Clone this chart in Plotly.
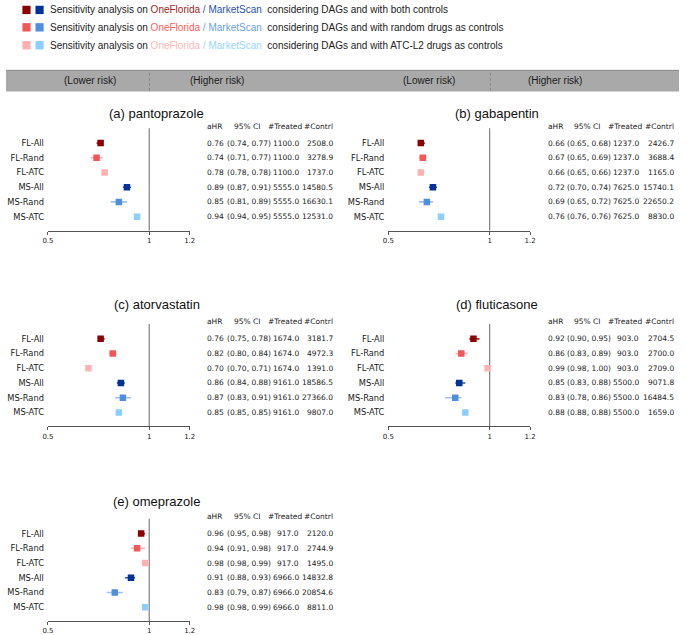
import plotly.graph_objects as go

# ---------------- data ----------------
row_labels = ["FL-All", "FL-Rand", "FL-ATC", "MS-All", "MS-Rand", "MS-ATC"]
panel_titles = ["(a) pantoprazole", "(b) gabapentin", "(c) atorvastatin",
                "(d) fluticasone", "(e) omeprazole"]

pantoprazole_ahr = [0.76, 0.74, 0.78, 0.89, 0.85, 0.94]
pantoprazole_lo = [0.74, 0.71, 0.78, 0.87, 0.81, 0.94]
pantoprazole_hi = [0.77, 0.77, 0.78, 0.91, 0.89, 0.95]
pantoprazole_treated = [1100.0, 1100.0, 1100.0, 5555.0, 5555.0, 5555.0]
pantoprazole_contrl = [2508.0, 3278.9, 1737.0, 14580.5, 16630.1, 12531.0]

gabapentin_ahr = [0.66, 0.67, 0.66, 0.72, 0.69, 0.76]
gabapentin_lo = [0.65, 0.65, 0.65, 0.70, 0.65, 0.76]
gabapentin_hi = [0.68, 0.69, 0.66, 0.74, 0.72, 0.76]
gabapentin_treated = [1237.0, 1237.0, 1237.0, 7625.0, 7625.0, 7625.0]
gabapentin_contrl = [2426.7, 3688.4, 1165.0, 15740.1, 22650.2, 8830.0]

atorvastatin_ahr = [0.76, 0.82, 0.70, 0.86, 0.87, 0.85]
atorvastatin_lo = [0.75, 0.80, 0.70, 0.84, 0.83, 0.85]
atorvastatin_hi = [0.78, 0.84, 0.71, 0.88, 0.91, 0.85]
atorvastatin_treated = [1674.0, 1674.0, 1674.0, 9161.0, 9161.0, 9161.0]
atorvastatin_contrl = [3181.7, 4972.3, 1391.0, 18586.5, 27366.0, 9807.0]

fluticasone_ahr = [0.92, 0.86, 0.99, 0.85, 0.83, 0.88]
fluticasone_lo = [0.90, 0.83, 0.98, 0.83, 0.78, 0.88]
fluticasone_hi = [0.95, 0.89, 1.00, 0.88, 0.86, 0.88]
fluticasone_treated = [903.0, 903.0, 903.0, 5500.0, 5500.0, 5500.0]
fluticasone_contrl = [2704.5, 2700.0, 2709.0, 9071.8, 16484.5, 1659.0]

omeprazole_ahr = [0.96, 0.94, 0.98, 0.91, 0.83, 0.98]
omeprazole_lo = [0.95, 0.91, 0.98, 0.88, 0.79, 0.98]
omeprazole_hi = [0.98, 0.98, 0.99, 0.93, 0.87, 0.99]
omeprazole_treated = [917.0, 917.0, 917.0, 6966.0, 6966.0, 6966.0]
omeprazole_contrl = [2120.0, 2744.9, 1495.0, 14832.8, 20854.6, 8811.0]

table_headers = ["aHR", "95% CI", "#Treated", "#Contrl"]
x_ticks = [0.5, 1, 1.2]
x_tick_labels = ["0.5", "1", "1.2"]

legend_tails = ["considering DAGs and with both controls",
                "considering DAGs and with random drugs as controls",
                "considering DAGs and with ATC-L2 drugs as controls"]
risk_labels = ["(Lower risk)", "(Higher risk)"]

# ---------------- styles ----------------
marker_colors = ["#8b0000", "#f25757", "#ffb0b0", "#003399", "#4f8fdc", "#8ccfff"]
err_colors = ["rgba(139,0,0,0.85)", "rgba(242,87,87,0.45)", "rgba(255,176,176,0.5)",
              "rgba(0,51,153,0.85)", "rgba(79,143,220,0.55)", "rgba(140,207,255,0.5)"]
fl_text_colors = ["#a51c1c", "#ff5a5a", "#ffb6b6"]
ms_text_colors = ["#2a52b0", "#6a9fe0", "#99d4ff"]

W, H = 685, 635


def fx(x):
    return x / W


def fy(y):
    return 1 - y / H


panels = [
    (pantoprazole_ahr, pantoprazole_lo, pantoprazole_hi, pantoprazole_treated, pantoprazole_contrl),
    (gabapentin_ahr, gabapentin_lo, gabapentin_hi, gabapentin_treated, gabapentin_contrl),
    (atorvastatin_ahr, atorvastatin_lo, atorvastatin_hi, atorvastatin_treated, atorvastatin_contrl),
    (fluticasone_ahr, fluticasone_lo, fluticasone_hi, fluticasone_treated, fluticasone_contrl),
    (omeprazole_ahr, omeprazole_lo, omeprazole_hi, omeprazole_treated, omeprazole_contrl),
]
panel_col = [0, 1, 0, 1, 0]
panel_first = [144, 144, 341, 341, 537]
panel_title_y = [114, 114, 306, 306, 505]
col_off = [0, 346.5]
ROW = 14.8
AX_X0, AX_X1 = 42.7, 187.0

fig = go.Figure()
annotations = []
shapes = []
layout_axes = {}

for k, (ahr, lo, hi, tr, ct) in enumerate(panels):
    n = k + 1
    xs = "x" if n == 1 else f"x{n}"
    ys = "y" if n == 1 else f"y{n}"
    xkey = "xaxis" if n == 1 else f"xaxis{n}"
    ykey = "yaxis" if n == 1 else f"yaxis{n}"
    off = col_off[panel_col[k]]
    first = panel_first[k]
    bottom = first + 88
    top = first - 15

    for i, lab in enumerate(row_labels):
        fig.add_trace(go.Scatter(
            x=[ahr[i]], y=[lab], xaxis=xs, yaxis=ys, mode="markers",
            marker=dict(symbol="square", size=6.5, color=marker_colors[i],
                        line=dict(width=0)),
            error_x=dict(type="data", symmetric=False,
                         array=[hi[i] - ahr[i]], arrayminus=[ahr[i] - lo[i]],
                         color=err_colors[i], thickness=1.6, width=0),
            hoverinfo="skip", showlegend=False))

    layout_axes[xkey] = dict(
        domain=[fx(AX_X0 + off), fx(AX_X1 + off)], range=[0.5, 1.2],
        anchor=ys, showline=True, linecolor="#555555", linewidth=1,
        tickvals=x_ticks, ticktext=x_tick_labels, ticks="outside", ticklen=3,
        tickcolor="#555555", tickfont=dict(family="DejaVu Sans", size=7, color="#222"),
        showgrid=False, zeroline=False, fixedrange=True)
    layout_axes[ykey] = dict(
        domain=[fy(bottom), fy(top)], type="category", categoryarray=row_labels,
        range=[(bottom - first) / ROW, (top - first) / ROW], anchor=xs,
        showline=False, showgrid=False, zeroline=False, ticks="",
        ticklabelstandoff=3,
        tickfont=dict(family="DejaVu Sans", size=8.3, color="#222"), fixedrange=True)

    shapes.append(dict(type="line", xref=xs, yref=f"{ys} domain", x0=1, x1=1, y0=0, y1=1,
                       line=dict(color="#808080", width=1.2), layer="below"))

    annotations.append(dict(text=panel_titles[k], x=fx(153.5 + off), y=fy(panel_title_y[k]),
                            xref="paper", yref="paper", showarrow=False,
                            xanchor="center", yanchor="middle",
                            font=dict(family="Liberation Sans", size=13, color="#111")))

    # table header
    hy = fy(first - 17)
    hdr_pos = [(203, "left"), (245.5, "center"), (303, "right"), (335, "right")]
    for (hx, anc), htxt in zip(hdr_pos, table_headers):
        annotations.append(dict(text=htxt, x=fx(hx + off), y=hy, xref="paper", yref="paper",
                                showarrow=False, xanchor=anc, yanchor="middle",
                                font=dict(family="DejaVu Sans", size=7.5, color="#222")))
    for i in range(len(row_labels)):
        ry = fy(first + ROW * i)
        cells = [(f"{ahr[i]:.2f}", 203, "left"),
                 (f"({lo[i]:.2f}, {hi[i]:.2f})", 222.5, "left"),
                 (f"{tr[i]:.1f}", 300, "right"),
                 (f"{ct[i]:.1f}", 335, "right")]
        for txt, cx, anc in cells:
            annotations.append(dict(text=txt, x=fx(cx + off), y=ry, xref="paper", yref="paper",
                                    showarrow=False, xanchor=anc, yanchor="middle",
                                    font=dict(family="DejaVu Sans", size=7.5, color="#222")))

# ---------------- legend ----------------
legend_y = [10, 27.5, 45.5]
for r in range(3):
    cy = legend_y[r]
    shapes.append(dict(type="rect", xref="paper", yref="paper",
                       x0=fx(16.7), x1=fx(25), y0=fy(cy + 4.2), y1=fy(cy - 4.2),
                       fillcolor=marker_colors[r], line=dict(width=0)))
    shapes.append(dict(type="rect", xref="paper", yref="paper",
                       x0=fx(30), x1=fx(38.3), y0=fy(cy + 4.2), y1=fy(cy - 4.2),
                       fillcolor=marker_colors[r + 3], line=dict(width=0)))
    txt = ("Sensitivity analysis on "
           f"<span style='color:{fl_text_colors[r]}'>OneFlorida</span>"
           f"<span style='color:{ms_text_colors[r]}'> / MarketScan</span>"
           "\u00a0\u00a0" + legend_tails[r])
    annotations.append(dict(text=txt, x=fx(42.5), y=fy(cy), xref="paper", yref="paper",
                            showarrow=False, xanchor="left", yanchor="middle",
                            font=dict(family="Liberation Sans", size=10, color="#222")))

# ---------------- header bar ----------------
shapes.append(dict(type="rect", xref="paper", yref="paper", x0=0, x1=1,
                   y0=fy(92), y1=fy(70.5), fillcolor="#a9a9a9",
                   line=dict(width=0)))
shapes.append(dict(type="line", xref="paper", yref="paper", x0=0, x1=1,
                   y0=fy(70.8), y1=fy(70.8), line=dict(color="#8c8c8c", width=1)))
for dx in [146, 493]:
    shapes.append(dict(type="line", xref="paper", yref="paper", x0=fx(dx), x1=fx(dx),
                       y0=fy(91.5), y1=fy(71), line=dict(color="#858585", width=1, dash="3px,2px")))
for cx, lab in [(86, risk_labels[0]), (215, risk_labels[1]),
                (431, risk_labels[0]), (559, risk_labels[1])]:
    annotations.append(dict(text=lab, x=fx(cx), y=fy(81.5), xref="paper", yref="paper",
                            showarrow=False, xanchor="center", yanchor="middle",
                            font=dict(family="Liberation Sans", size=10, color="#1a1a1a")))

fig.update_layout(
    width=W, height=H, margin=dict(l=0, r=0, t=0, b=0),
    paper_bgcolor="white", plot_bgcolor="white", showlegend=False,
    annotations=annotations, shapes=shapes, **layout_axes)

# remove the browser's default page margin so the figure fills the window exactly
fig.write_html("out.html",
               config={"displayModeBar": False, "staticPlot": True},
               post_script="document.body.style.margin='0px';document.body.style.overflow='hidden';")
